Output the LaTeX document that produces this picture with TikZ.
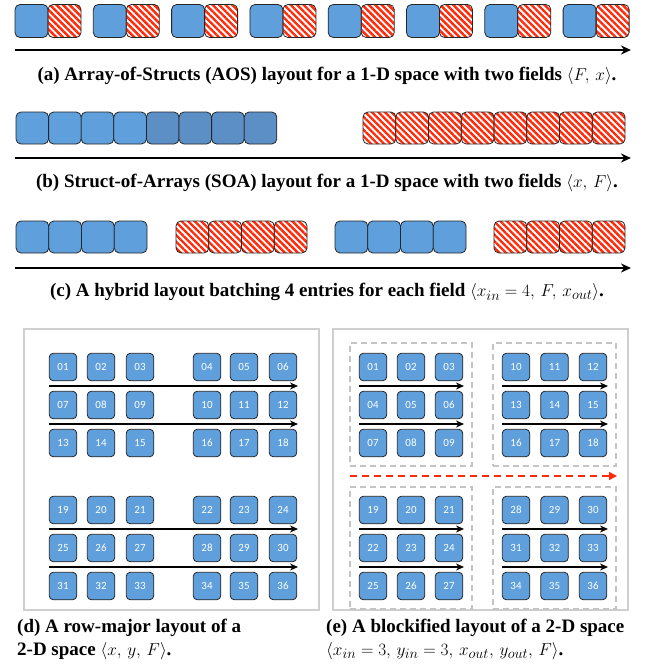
\documentclass[tikz,border=0pt]{standalone}
\usepackage{fontspec}
\setmainfont{Liberation Serif}
\newfontfamily\boxfont{Carlito}
\usetikzlibrary{patterns.meta,arrows.meta}
\definecolor{blueF}{HTML}{5F9FDC}
\definecolor{blueD}{HTML}{5B8FC6}
\definecolor{redH}{HTML}{FF2A0A}
\definecolor{grayB}{HTML}{CFCFCF}
\definecolor{grayD}{HTML}{C4C4C4}
\begin{document}
\begin{tikzpicture}[x=1pt,y=-1pt,
  blu/.style={draw=black!85, fill=blueF, rounded corners=5pt, line width=0.8pt, inner sep=0pt},
  bluD/.style={blu, fill=blueD},
  hatch/.style={draw=black!85, rounded corners=5pt, line width=0.8pt, inner sep=0pt,
    pattern={Lines[angle=-45,distance=4.6pt,line width=2.4pt]}, pattern color=redH},
  axis/.style={line width=2.2pt, -{Stealth[length=10pt,width=9pt]}},
  cell/.style={draw=black!85, fill=blueF, rounded corners=4pt, line width=0.8pt, inner sep=0pt,
    minimum width=27.5pt, minimum height=27.5pt, text=white, font=\boxfont\fontsize{11}{11}\selectfont},
  rowarr/.style={line width=1.6pt, -{Stealth[length=8pt,width=7pt]}},
  frame/.style={draw=grayB, line width=1.5pt},
  blockbox/.style={draw=grayD, line width=1.3pt, dash pattern=on 6pt off 4pt},
  captxt/.style={font=\bfseries\fontsize{19}{22}\selectfont, inner sep=0pt},
]
\useasboundingbox[fill=white] (0,0) rectangle (655,664);

% ---------- (a) AOS ----------
\foreach \k in {0,...,7}{
  \pgfmathsetmacro{\xo}{15+\k*78.3}
  \node[blu, minimum width=33pt, minimum height=33pt] (ab\k) at (\xo+16.5,21) {};
  \node[hatch, minimum width=33pt, minimum height=33pt] (ar\k) at (\xo+49.5,21) {};
}
\coordinate (aS) at (15,50);
\coordinate (aE) at (631,50);
\draw[axis] (aS) -- (aE);
\node[captxt] (capa) at (327,76) {(a) Array-of-Structs (AOS) layout for a 1-D space with two fields $\langle F,\, x\rangle$.};

% ---------- (b) SOA ----------
\foreach \i in {0,...,7}{
  \pgfmathsetmacro{\xb}{16+16.3+\i*32.6}
  \pgfmathsetmacro{\xr}{363+16.4+\i*32.75}
  \ifnum\i<4
    \node[blu, minimum width=32.6pt, minimum height=32pt] (bb\i) at (\xb,128) {};
  \else
    \node[bluD, minimum width=32.6pt, minimum height=32pt] (bb\i) at (\xb,128) {};
  \fi
  \node[hatch, minimum width=32.75pt, minimum height=32pt] (br\i) at (\xr,128) {};
}
\coordinate (bS) at (15,158);
\coordinate (bE) at (631,158);
\draw[axis] (bS) -- (bE);
\node[captxt] (capb) at (327,183) {(b) Struct-of-Arrays (SOA) layout for a 1-D space with two fields $\langle x,\, F\rangle$.};

% ---------- (c) hybrid ----------
\foreach \i in {0,...,3}{
  \node[blu, minimum width=32.75pt, minimum height=32pt] (cb\i) at (16+16.4+\i*32.75,237) {};
  \node[hatch, minimum width=32.75pt, minimum height=32pt] (cr\i) at (176+16.4+\i*32.75,237) {};
  \node[blu, minimum width=32.75pt, minimum height=32pt] (cB\i) at (335+16.4+\i*32.75,237) {};
  \node[hatch, minimum width=32.75pt, minimum height=32pt] (cR\i) at (494+16.4+\i*32.75,237) {};
}
\coordinate (cS) at (15,268);
\coordinate (cE) at (631,268);
\draw[axis] (cS) -- (cE);
\node[captxt] (capc) at (327,292) {(c) A hybrid layout batching 4 entries for each field $\langle x_{in} = 4,\, F,\, x_{out}\rangle$.};

% ---------- (d) row-major ----------
\node[frame, minimum width=295pt, minimum height=281pt, inner sep=0pt] (dframe) at (171.5,469.5) {};
\foreach \r/\yy in {0/367,1/405,2/443,3/510,4/548,5/586}{
  \foreach \c/\xx in {0/63,1/101,2/140,3/207,4/244,5/283}{
    \pgfmathtruncatemacro{\n}{\r*6+\c+1}
    \node[cell] (d\n) at (\xx,\yy) {\ifnum\n<10 0\fi\n};
  }
}
\foreach \t/\yy in {1/386,2/424,3/529,4/567}{
  \coordinate (dS\t) at (49,\yy);
  \coordinate (dE\t) at (298,\yy);
  \draw[rowarr] (dS\t) -- (dE\t);
}
\node[captxt, anchor=west] (capd1) at (17,628) {(d) A row-major layout of a};
\node[captxt, anchor=west] (capd2) at (17,651) {2-D space $\langle x,\, y,\, F\rangle$.};

% ---------- (e) blockified ----------
\node[frame, minimum width=295pt, minimum height=281pt, inner sep=0pt] (eframe) at (480.5,469.5) {};
\node[blockbox, minimum width=122pt, minimum height=123pt, inner sep=0pt] (eb1) at (411,404.5) {};
\node[blockbox, minimum width=123pt, minimum height=123pt, inner sep=0pt] (eb2) at (554.5,404.5) {};
\node[blockbox, minimum width=122pt, minimum height=122pt, inner sep=0pt] (eb3) at (411,548) {};
\node[blockbox, minimum width=123pt, minimum height=122pt, inner sep=0pt] (eb4) at (554.5,548) {};
\foreach \b/\bx/\by in {0/0/0,1/1/0,2/0/1,3/1/1}{
  \foreach \rr in {0,1,2}{
    \foreach \cc in {0,1,2}{
      \pgfmathtruncatemacro{\n}{\b*9+\rr*3+\cc+1}
      \pgfmathsetmacro{\xx}{\bx==0 ? {373+\cc*38} : {516+\cc*38.5}}
      \pgfmathsetmacro{\yy}{\by==0 ? {367+\rr*38} : {510+\rr*38}}
      \node[cell] (e\n) at (\xx,\yy) {\ifnum\n<10 0\fi\n};
    }
  }
}
\foreach \t/\yy in {1/386,2/424,3/529,4/567}{
  \coordinate (eS\t) at (359,\yy);
  \coordinate (eE\t) at (464,\yy);
  \coordinate (fS\t) at (502,\yy);
  \coordinate (fE\t) at (608,\yy);
  \draw[rowarr] (eS\t) -- (eE\t);
  \draw[rowarr] (fS\t) -- (fE\t);
}
\coordinate (rS) at (350,476);
\coordinate (rE) at (617,476);
\draw[draw=redH, line width=1.5pt, dash pattern=on 7pt off 5pt, -{Triangle[length=8pt,width=8pt]}] (rS) -- (rE);
\node[captxt, anchor=west] (cape1) at (326,628) {(e) A blockified layout of a 2-D space};
\node[captxt, anchor=west] (cape2) at (326,651) {$\langle x_{in} = 3,\, y_{in} = 3,\, x_{out},\, y_{out},\, F\rangle$.};
\end{tikzpicture}
\end{document}
